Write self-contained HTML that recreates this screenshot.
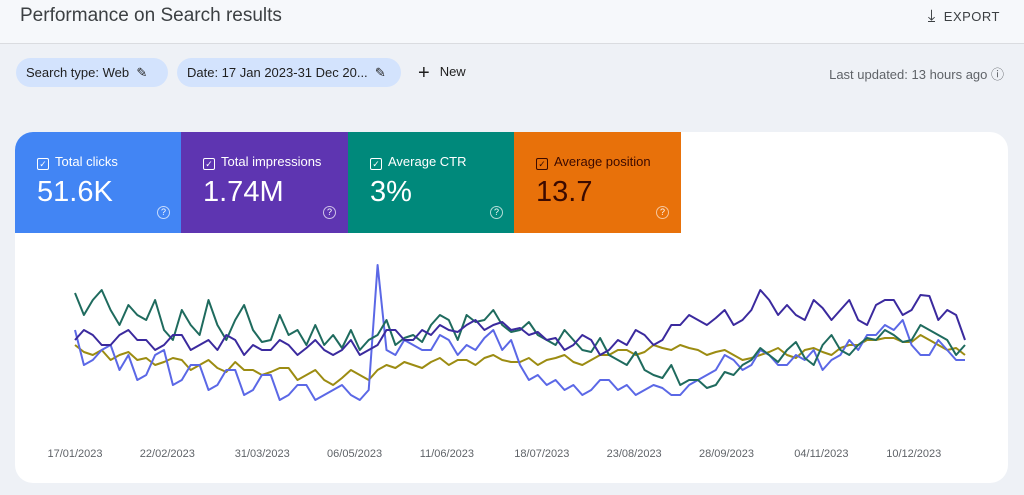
<!DOCTYPE html>
<html><head><meta charset="utf-8">
<style>
body{margin:0;width:1024px;height:495px;background:#eef1f6;font-family:"Liberation Sans",sans-serif;position:relative;overflow:hidden;color:#202124}
.hdr{position:absolute;left:0;top:0;width:1024px;height:43px;border-bottom:1px solid #dadce0;background:#f6f8fb}
.title{position:absolute;left:20px;top:5px;font-size:19px;color:#3c4043}
.export{position:absolute;right:24px;top:6px;font-size:13px;color:#3c4043;letter-spacing:.5px}
.chip{position:absolute;top:58px;height:29px;border-radius:15px;background:#d3e3fd;font-size:13px;line-height:29px;padding:0 10px;color:#1f1f1f;box-sizing:border-box}
.card{position:absolute;left:15px;top:132px;width:993px;height:351px;background:#fff;border-radius:18px;overflow:hidden}
.tile{position:absolute;top:0;height:101px;width:167px;color:#fff}
.tile .lab{position:absolute;left:22px;top:22px;font-size:13px}
.tile .val{position:absolute;left:22px;top:44px;font-size:29px}
.tile .q{position:absolute;right:12px;top:74px;width:11px;height:11px;border:1px solid rgba(255,255,255,.7);border-radius:50%;font-size:9px;text-align:center;line-height:11px}
.cb{display:inline-block;width:10px;height:10px;border:1.5px solid currentColor;border-radius:2px;font-size:9px;line-height:10px;text-align:center;margin-right:6px;vertical-align:-1px}
</style></head><body>
<div class="hdr">
<div class="title">Performance on Search results</div>
<div class="export"><span style="font-size:17px;margin-right:8px">⤓</span>EXPORT</div>
</div>
<div class="chip" style="left:16px;width:152px">Search type: Web &nbsp;✎</div>
<div class="chip" style="left:177px;width:224px">Date: 17 Jan 2023-31 Dec 20... &nbsp;✎</div>
<div style="position:absolute;left:418px;top:62px;font-size:13px;color:#1f1f1f"><span style="font-size:20px;vertical-align:-3px;margin-right:10px">+</span>New</div>
<div style="position:absolute;right:20px;top:64px;font-size:13px;color:#5f6368">Last updated: 13 hours ago ⓘ</div>
<div class="card">
<div class="tile" style="left:0;background:#4285f4"><div class="lab"><span class="cb">✓</span>Total clicks</div><div class="val">51.6K</div><div class="q">?</div></div>
<div class="tile" style="left:166px;background:#5e35b1"><div class="lab"><span class="cb">✓</span>Total impressions</div><div class="val">1.74M</div><div class="q">?</div></div>
<div class="tile" style="left:333px;background:#00897b"><div class="lab"><span class="cb">✓</span>Average CTR</div><div class="val">3%</div><div class="q">?</div></div>
<div class="tile" style="left:499px;background:#e8710a;color:#3c0a00"><div class="lab"><span class="cb">✓</span>Average position</div><div class="val">13.7</div><div class="q" style="border-color:rgba(255,255,255,.6);color:#fff">?</div></div>
</div>
<svg id="chart" width="1024" height="495" style="position:absolute;left:0;top:0"></svg>
<script>
const tickLabels=["17/01/2023","22/02/2023","31/03/2023","06/05/2023","11/06/2023","18/07/2023","23/08/2023","28/09/2023","04/11/2023","10/12/2023"];
const tickDays=[0,36,73,109,145,182,218,254,291,327];
const ctr=[117,95,110,120,100,85,105,95,90,110,80,70,100,85,75,110,85,70,90,105,80,68,70,95,75,80,65,85,65,75,62,80,60,70,75,90,65,72,75,68,85,95,90,70,95,88,90,100,85,78,80,88,75,70,65,80,70,60,58,72,55,50,45,58,40,35,32,45,25,30,30,22,25,38,35,45,50,62,55,48,60,68,52,45,65,75,60,55,65,72,70,80,75,68,70,85,80,75,70,55,65];
const impressions=[70,80,75,65,65,75,80,70,70,60,65,75,75,60,65,70,60,75,70,55,65,60,60,70,65,55,62,70,60,55,60,70,55,60,65,80,80,70,70,80,75,85,80,78,85,90,80,85,88,80,82,75,78,70,72,60,65,75,70,55,60,70,65,80,75,65,70,85,85,95,90,85,92,100,85,90,100,120,110,95,105,95,90,110,102,90,100,110,90,85,105,110,110,95,100,115,114,90,100,95,70];
const clicks=[80,45,50,60,65,40,55,30,35,55,60,25,30,45,45,20,25,40,40,15,20,35,35,10,15,25,25,10,15,20,25,15,10,20,145,60,55,70,65,60,60,75,70,55,65,60,72,80,60,70,45,30,35,25,30,20,25,15,20,30,30,20,25,15,20,25,22,15,15,25,30,35,40,55,50,40,45,60,55,45,45,55,50,60,40,50,55,70,60,75,75,85,80,90,65,55,55,70,60,50,50];
const position=[65,58,55,60,50,55,58,50,52,45,48,52,50,40,45,50,42,38,48,40,40,35,38,42,42,30,35,40,30,25,32,40,35,30,40,45,42,48,45,42,48,52,45,50,50,45,52,55,50,48,48,52,45,50,52,55,48,45,50,55,55,60,60,55,58,65,62,60,65,62,60,55,58,60,55,50,52,55,58,62,55,52,60,62,58,55,62,65,65,70,70,72,72,68,68,75,70,65,60,62,55];
const svg=document.getElementById('chart');
const NS='http://www.w3.org/2000/svg';
function xDay(d){return 75+d*2.565;}
function xIdx(i,n){return 75+i*(890/(n-1));}
function yVal(v){return 410-v;}
tickLabels.forEach((t,k)=>{
  const tx=document.createElementNS(NS,'text');
  
  
  tx.setAttribute('x',xDay(tickDays[k]));tx.setAttribute('y',457);
  tx.setAttribute('text-anchor','middle');tx.setAttribute('font-size','11');tx.setAttribute('fill','#5f6368');
  tx.setAttribute('font-family','Liberation Sans, sans-serif');
  tx.textContent=t;svg.appendChild(tx);
});
function line(arr,color,name){
  const p=document.createElementNS(NS,'polyline');
  
  
  p.setAttribute('points',arr.map((v,i)=>xIdx(i,arr.length).toFixed(1)+','+yVal(v).toFixed(1)).join(' '));
  p.setAttribute('fill','none');p.setAttribute('stroke',color);p.setAttribute('stroke-width','2');p.setAttribute('stroke-linejoin','round');
  svg.appendChild(p);
}
line(position,'#9c8c12','position-line');
line(clicks,'#5b68e6','clicks-line');
line(ctr,'#1f6b5e','ctr-line');
line(impressions,'#3b2a9e','impressions-line');
</script>
</body></html>
